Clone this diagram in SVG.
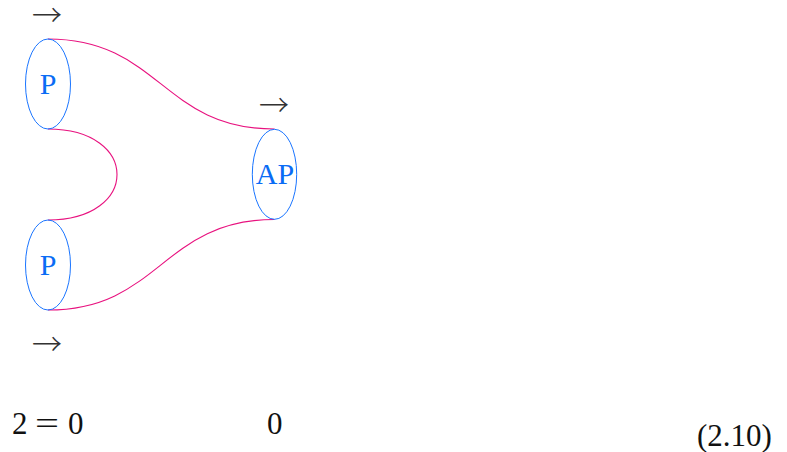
<svg xmlns="http://www.w3.org/2000/svg" width="787" height="452" viewBox="0 0 787 452">
<style>
.node{fill:none;stroke:#1a75ff;stroke-width:1}
.lbl{font-family:"Liberation Serif",serif;font-size:30px;fill:#0a6cf5;text-anchor:middle}
.edge{fill:none;stroke:#e8127f;stroke-width:1.1}
.arr{font-family:"Noto Sans CJK JP",sans-serif;font-size:30px;font-weight:300;fill:#333}
.eq{font-family:"Liberation Serif",serif;font-size:31px;fill:#111}
</style>
<rect width="787" height="452" fill="#fff"/>
<g id="connectors">
<path class="edge" d="M48 39 C160 39 162 129 274.5 129"/>
<path class="edge" d="M48 129 C140 129 140 220 48 220"/>
<path class="edge" d="M48 310 C160 310 162 219.5 274.5 219.5"/>
</g>
<g id="p1"><ellipse class="node" cx="48" cy="84" rx="22.5" ry="45"/><text class="lbl" x="48" y="94">P</text></g>
<g id="ap"><ellipse class="node" cx="274.5" cy="174.3" rx="22.2" ry="45"/><text class="lbl" x="275" y="184.3">AP</text></g>
<g id="p2"><ellipse class="node" cx="48" cy="265" rx="22.5" ry="45"/><text class="lbl" x="48" y="275">P</text></g>
<text class="arr" x="32" y="26" textLength="30" lengthAdjust="spacingAndGlyphs">→</text>
<text class="arr" x="259" y="116" textLength="30" lengthAdjust="spacingAndGlyphs">→</text>
<text class="arr" x="32" y="355" textLength="30" lengthAdjust="spacingAndGlyphs">→</text>
<text class="eq" x="12" y="434">2</text>
<text class="eq" x="35" y="434" textLength="24" lengthAdjust="spacingAndGlyphs">=</text>
<text class="eq" x="68" y="434">0</text>
<text class="eq" x="267" y="434">0</text>
<text class="eq" x="697" y="446">(2.10)</text>
</svg>
